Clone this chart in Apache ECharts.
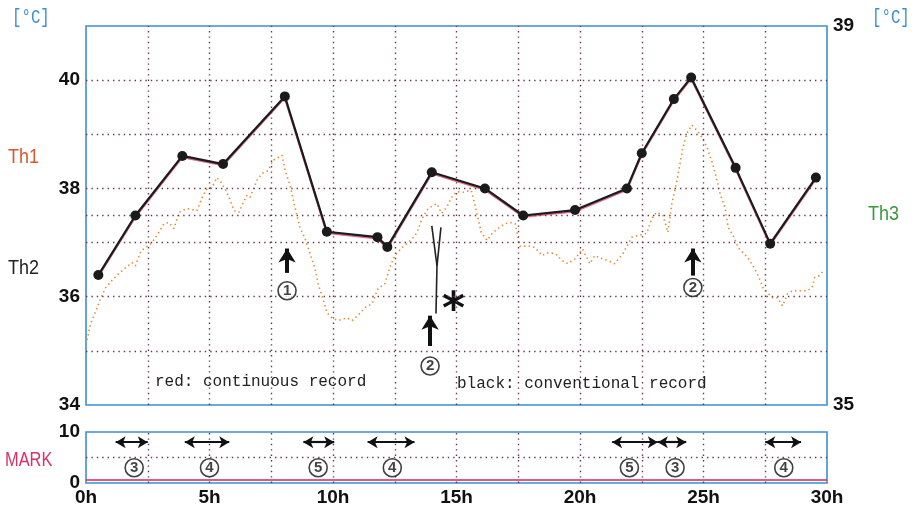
<!DOCTYPE html>
<html>
<head>
<meta charset="utf-8">
<script src="https://cdn.jsdelivr.net/npm/echarts@6/dist/echarts.min.js"></script>
<style>
  html, body { margin: 0; padding: 0; background: #fff; }
  #chart { width: 913px; height: 510px; }
</style>
</head>
<body>
<div id="chart"></div>
<script>
// Conventional (manual) readings: hour of record and temperature [°C]
const convHours = [0.5, 2.0, 3.9, 5.55, 8.05, 9.75, 11.8, 12.2, 14.0, 16.15, 17.7, 19.8, 21.9, 22.5, 23.8, 24.5, 26.3, 27.7, 29.55];
const convTemps = [36.4, 37.5, 38.6, 38.45, 39.7, 37.2, 37.1, 36.92, 38.3, 38.0, 37.5, 37.6, 38.0, 38.65, 39.65, 40.05, 38.38, 36.98, 38.2];

// Continuous record: hour and temperature [°C]
const contHours = [0.04, 0.2, 0.4, 0.6, 0.8, 1.05, 1.33, 1.62, 1.86, 2.0, 2.23, 2.43, 2.67, 2.87, 3.16, 3.36, 3.56, 3.77, 4.09, 4.49,
  4.7, 4.9, 5.1, 5.3, 5.47, 5.67, 5.87, 6.0, 6.2, 6.32, 6.5, 6.64, 6.92, 7.13, 7.37, 7.57, 7.94, 8.06, 8.26, 8.46,
  8.66, 8.87, 9.07, 9.27, 9.4, 9.55, 9.76, 9.96, 10.2, 10.57, 10.77, 11.0, 11.3, 11.58, 11.82, 12.1, 12.3, 12.5, 12.8, 13.04,
  13.24, 13.4, 13.6, 13.85, 14.2, 14.4, 14.6, 14.8, 15.0, 15.26, 15.6, 15.75, 16.0, 16.24, 16.44, 16.68, 16.96, 17.25, 17.37, 17.57,
  17.9, 18.18, 18.46, 18.7, 18.99, 19.27, 19.51, 19.8, 20.1, 20.4, 20.6, 20.9, 21.13, 21.4, 21.74, 22.1, 22.35, 22.7, 22.9, 23.1,
  23.36, 23.56, 23.72, 23.93, 24.05, 24.17, 24.33, 24.53, 24.74, 24.94, 25.14, 25.34, 25.5, 25.67, 25.87, 26.0, 26.2, 26.4, 26.6, 26.8,
  27.0, 27.17, 27.29, 27.4, 27.6, 27.8, 28.0, 28.2, 28.4, 28.6, 28.9, 29.2, 29.4, 29.5, 29.7, 29.85];
const contTemps = [35.2, 35.52, 35.74, 35.98, 36.17, 36.3, 36.43, 36.54, 36.63, 36.57, 36.85, 36.91, 37.0, 37.13, 37.35, 37.37, 37.26, 37.56, 37.63, 37.59,
  37.83, 38.0, 38.02, 38.2, 38.11, 37.96, 37.74, 37.59, 37.56, 37.69, 37.87, 37.83, 38.15, 38.28, 38.33, 38.52, 38.61, 38.33, 38.06, 37.65,
  37.28, 37.07, 36.8, 36.52, 36.24, 36.02, 35.7, 35.61, 35.56, 35.61, 35.56, 35.65, 35.8, 35.87, 36.15, 36.24, 36.54, 36.76, 36.91, 37.0,
  37.09, 37.18, 37.44, 37.63, 37.72, 37.54, 37.65, 37.83, 37.94, 37.93, 37.96, 37.69, 37.19, 37.04, 37.17, 37.26, 37.35, 37.37, 37.35, 36.93,
  36.94, 36.91, 36.76, 36.81, 36.8, 36.67, 36.61, 36.7, 36.88, 36.61, 36.76, 36.7, 36.67, 36.61, 36.8, 37.1, 37.13, 37.17, 37.44, 37.56,
  37.5, 37.19, 37.72, 38.15, 38.46, 38.76, 39.02, 39.17, 39.07, 38.94, 38.76, 38.5, 38.24, 37.9, 37.65, 37.28, 37.13, 36.91, 36.81, 36.72,
  36.57, 36.43, 36.3, 36.17, 36.07, 35.98, 35.98, 35.83, 36.05, 36.11, 36.11, 36.11, 36.17, 36.35, 36.39, 36.48];

// MARK channel: baseline level and marked intervals (start h, end h, code)
const markLevel = 0.6;
const markStart = [1.2, 4.0, 8.8, 11.4, 21.3, 23.15, 27.5];
const markEnd   = [2.5, 5.8, 10.05, 13.3, 23.15, 24.3, 28.95];
const markCodeHour = [1.95, 5.0, 9.4, 12.4, 22.0, 23.85, 28.25];
const markCodes = ['3', '4', '5', '4', '5', '3', '4'];
const markArrowLevel = 8;
const markCodeLevel = 3;

// Event pointers on the temperature panel: hour, tail, head, label temp, label
const eventHours = [8.14, 13.93, 24.57];
const eventTail = [36.44, 35.09, 36.39];
const eventHead = [36.89, 35.65, 36.89];
const eventLabelTemp = [36.11, 34.72, 36.17];
const eventLabels = ['1', '2', '2'];

// Probe-removal sketch near 14 h: two strokes joining, then a stem
const sketchFrom = [[14.0, 37.31], [14.37, 37.28], [14.21, 36.57]];
const sketchTo   = [[14.21, 36.57], [14.21, 36.57], [14.17, 35.69]];

// Tick and grid positions
const hourTicks = [0, 5, 10, 15, 20, 25, 30];
const vGrid = [2.5, 5, 7.5, 10, 12.5, 15, 17.5, 20, 22.5, 25, 27.5];
const hGrid = [35, 36, 37, 37.5, 38, 39, 40];
const markGrid = [5];

const BLUE = '#3b8fd3';
const GRIDC = '#6a3550';
const ORANGE = '#e38a2c';
const boldLabel = { color: '#111', fontWeight: 'bold', fontSize: 19, fontFamily: 'Liberation Sans, Arial, sans-serif' };

const gridLineStyle = { color: GRIDC, width: 1.4, type: [1.4, 4] };

function vLines(lo, hi) {
  return vGrid.map(h => [{ coord: [h, lo] }, { coord: [h, hi] }]);
}
function hLines(vals) {
  return vals.map(v => [{ coord: [0, v] }, { coord: [30, v] }]);
}

const circledLabel = {
  show: true, position: 'inside', formatter: p => p.value[2],
  color: '#111', fontWeight: 'bold', fontSize: 15, fontFamily: 'Liberation Sans, Arial'
};
const circleStyle = { color: '#fff', borderColor: '#111', borderWidth: 1.6 };

const chart = echarts.init(document.getElementById('chart'), null, { renderer: 'canvas' });

chart.setOption({
  animation: false,
  backgroundColor: '#fff',
  grid: [
    { left: 86, right: 86, top: 26, height: 379, show: true, borderColor: BLUE, borderWidth: 1.6, backgroundColor: 'transparent' },
    { left: 86, right: 86, top: 432, height: 51, show: true, borderColor: BLUE, borderWidth: 1.6, backgroundColor: 'transparent' }
  ],
  xAxis: [
    { type: 'value', gridIndex: 0, min: 0, max: 30, interval: 2.5,
      axisLine: { show: false }, axisTick: { show: false }, axisLabel: { show: false }, splitLine: { show: false } },
    { type: 'value', gridIndex: 1, min: 0, max: 30, interval: 5,
      axisLine: { show: false }, axisTick: { show: false }, splitLine: { show: false },
      axisLabel: Object.assign({ margin: 5, formatter: v => hourTicks.includes(v) ? v + 'h' : '' }, boldLabel) }
  ],
  yAxis: [
    { type: 'value', gridIndex: 0, min: 34, max: 41, interval: 1,
      axisLine: { show: false }, axisTick: { show: false }, splitLine: { show: false },
      axisLabel: Object.assign({ margin: 6, formatter: v => (v % 2 === 0 && v < 41) ? String(v) : '' }, boldLabel) },
    { type: 'value', gridIndex: 0, position: 'right', min: 35, max: 39, interval: 4,
      axisLine: { show: false }, axisTick: { show: false }, splitLine: { show: false },
      axisLabel: Object.assign({ margin: 6 }, boldLabel) },
    { type: 'value', gridIndex: 1, min: 0, max: 10, interval: 5,
      axisLine: { show: false }, axisTick: { show: false }, splitLine: { show: false },
      axisLabel: Object.assign({ margin: 6, formatter: v => v === 5 ? '' : String(v) }, boldLabel) }
  ],
  series: [
    // dotted grid of the temperature panel
    { type: 'line', xAxisIndex: 0, yAxisIndex: 0, data: [], silent: true,
      markLine: { silent: true, symbol: ['none', 'none'], label: { show: false }, lineStyle: gridLineStyle,
        data: vLines(34, 41).concat(hLines(hGrid)) } },
    // dotted grid of the MARK panel
    { type: 'line', xAxisIndex: 1, yAxisIndex: 2, data: [], silent: true,
      markLine: { silent: true, symbol: ['none', 'none'], label: { show: false }, lineStyle: gridLineStyle,
        data: vLines(0, 10).concat(hLines(markGrid)) } },
    // continuous record
    { name: 'continuous', type: 'line', xAxisIndex: 0, yAxisIndex: 0, showSymbol: false, symbol: 'none',
      lineStyle: { color: ORANGE, width: 1.6, type: [1.4, 3.2] },
      data: contHours.map((h, i) => [h, contTemps[i]]) },
    // conventional record
    { name: 'conventional', type: 'line', xAxisIndex: 0, yAxisIndex: 0, symbol: 'circle', symbolSize: 10, z: 5,
      lineStyle: { color: '#1b1b1b', width: 2.2, shadowColor: 'rgba(205,40,80,0.7)', shadowOffsetY: 1.2, shadowBlur: 0 },
      itemStyle: { color: '#1b1b1b' },
      data: convHours.map((h, i) => [h, convTemps[i]]) },
    // event pointers (arrows) and the probe sketch
    { type: 'line', xAxisIndex: 0, yAxisIndex: 0, data: [], silent: true, z: 6,
      markLine: { silent: true, label: { show: false }, symbol: ['none', 'arrow'], symbolSize: [13, 14],
        lineStyle: { color: '#111', width: 4, type: 'solid' },
        data: eventHours.map((h, i) => [{ coord: [h, eventTail[i]] }, { coord: [h, eventHead[i]] }])
          .concat(sketchFrom.map((p, i) => [
            { coord: p, symbol: 'none', lineStyle: { width: 1.6, color: '#222' } },
            { coord: sketchTo[i], symbol: 'none' }])) } },
    // event labels in circles
    { type: 'scatter', xAxisIndex: 0, yAxisIndex: 0, symbol: 'circle', symbolSize: 18, z: 7, silent: true,
      itemStyle: circleStyle, label: circledLabel,
      data: eventHours.map((h, i) => [h, eventLabelTemp[i], eventLabels[i]]) },
    // MARK baseline
    { name: 'MARK', type: 'line', xAxisIndex: 1, yAxisIndex: 2, symbol: 'none',
      lineStyle: { color: '#d3245a', width: 1.6 },
      data: [[0, markLevel], [30, markLevel]],
      markLine: { silent: true, label: { show: false }, symbol: ['arrow', 'arrow'], symbolSize: [9, 10],
        lineStyle: { color: '#111', width: 2.2, type: 'solid' },
        data: markStart.map((s, i) => [{ coord: [s, markArrowLevel] }, { coord: [markEnd[i], markArrowLevel] }]) } },
    // MARK codes in circles
    { type: 'scatter', xAxisIndex: 1, yAxisIndex: 2, symbol: 'circle', symbolSize: 18, z: 7, silent: true,
      itemStyle: circleStyle, label: circledLabel,
      data: markCodeHour.map((h, i) => [h, markCodeLevel, markCodes[i]]) }
  ],
  graphic: [
    { type: 'text', left: 12, top: 7, scaleX: 0.75, style: { text: '[°C]', fill: BLUE, font: '21px "Liberation Mono", monospace' } },
    { type: 'text', left: 872, top: 7, scaleX: 0.75, style: { text: '[°C]', fill: BLUE, font: '21px "Liberation Mono", monospace' } },
    { type: 'text', left: 8, top: 147, scaleX: 0.9, style: { text: 'Th1', fill: '#d9582c', font: '20px "Liberation Sans", Arial' } },
    { type: 'text', left: 8, top: 258, scaleX: 0.9, style: { text: 'Th2', fill: '#222', font: '20px "Liberation Sans", Arial' } },
    { type: 'text', left: 868, top: 204, scaleX: 0.9, style: { text: 'Th3', fill: '#3a9a3a', font: '20px "Liberation Sans", Arial' } },
    { type: 'text', left: 5, top: 450, scaleX: 0.82, style: { text: 'MARK', fill: '#d6336a', font: '20px "Liberation Sans", Arial' } },
    { type: 'text', left: 155, top: 374, style: { text: 'red: continuous record', fill: '#222', font: '16px "Liberation Mono", monospace' } },
    { type: 'text', left: 457, top: 376, style: { text: 'black: conventional record', fill: '#222', font: '16px "Liberation Mono", monospace' } },
    { type: 'text', left: 442, top: 290, style: { text: '*', fill: '#111', font: 'bold 44px "DejaVu Sans", sans-serif' } }
  ]
});
</script>
</body>
</html>
